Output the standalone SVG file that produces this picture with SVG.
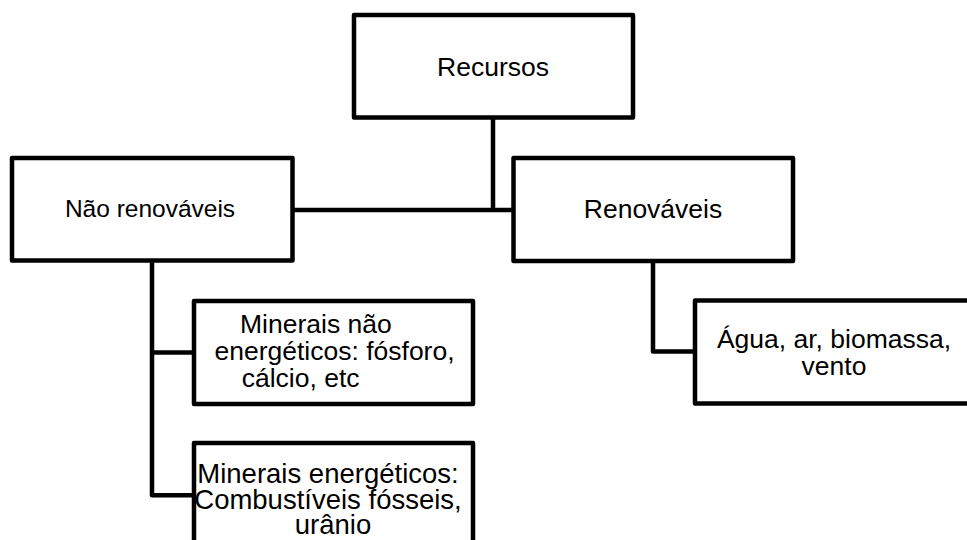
<svg xmlns="http://www.w3.org/2000/svg" width="967" height="540" viewBox="0 0 967 540">
  <style>
    .box { fill: #ffffff; stroke: #000000; stroke-width: 4.5; stroke-linejoin: round; }
    .link { fill: none; stroke: #000000; stroke-width: 4.5; stroke-linejoin: round; }
    text { font-family: "Liberation Sans", Arial, sans-serif; font-size: 26.5px; fill: #000000; }
    .mid { text-anchor: middle; }
  </style>
  <rect width="967" height="540" fill="#ffffff"/>

  <!-- tree connectors -->
  <g id="connectors">
    <path class="link" d="M493,117.5 V210"/>
    <path class="link" d="M292.5,210 H513.5"/>
    <path class="link" d="M152,260.5 V495.3 H194"/>
    <path class="link" d="M152,352.5 H194"/>
    <path class="link" d="M653,261 V351.5 H695"/>
  </g>

  <g id="recursos">
    <rect class="box" x="354" y="15" width="279" height="102.5"/>
    <text class="mid" x="493" y="75.7">Recursos</text>
  </g>

  <g id="nao-renovaveis">
    <rect class="box" x="12" y="158" width="280.5" height="102.5"/>
    <text class="mid" x="150" y="216.7" style="font-size:24.5px">Não renováveis</text>
  </g>

  <g id="renovaveis">
    <rect class="box" x="513.5" y="158" width="279.5" height="103"/>
    <text class="mid" x="653" y="218">Renováveis</text>
  </g>

  <g id="minerais-nao-energeticos">
    <rect class="box" x="194" y="301" width="279" height="103"/>
    <text x="240" y="333.3">Minerais não</text>
    <text class="mid" x="334.5" y="360">energéticos: fósforo,</text>
    <text x="241.7" y="387">cálcio, etc</text>
  </g>

  <g id="minerais-energeticos">
    <rect class="box" x="194" y="443" width="279" height="110"/>
    <text class="mid" x="328" y="482.7" style="font-size:27.5px">Minerais energéticos:</text>
    <text class="mid" x="328" y="509.3" style="font-size:27.5px">Combustíveis fósseis,</text>
    <text class="mid" x="333" y="533.5" style="font-size:27.5px">urânio</text>
  </g>

  <g id="agua-ar-biomassa-vento">
    <rect class="box" x="695" y="300.5" width="279" height="103"/>
    <text class="mid" x="834" y="347.8">Água, ar, biomassa,</text>
    <text class="mid" x="834" y="374.5">vento</text>
  </g>
</svg>
